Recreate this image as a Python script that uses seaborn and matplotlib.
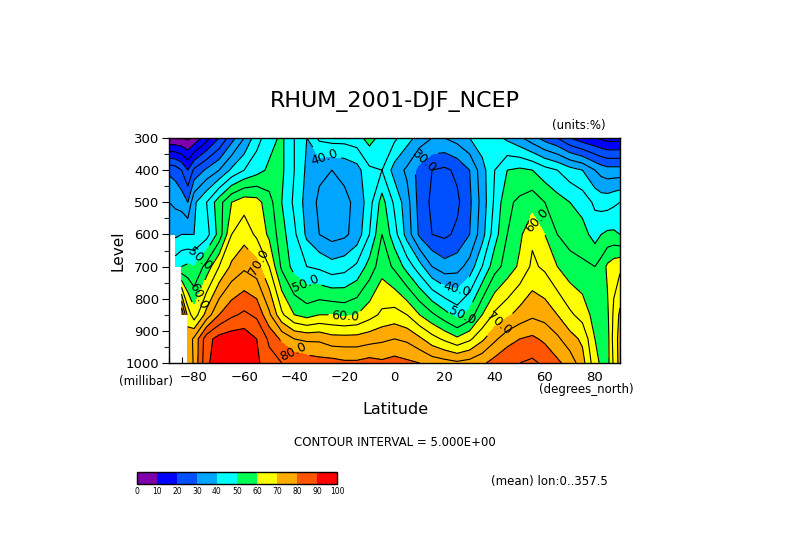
import numpy as np
import matplotlib
matplotlib.use("Agg")
import matplotlib.pyplot as plt
from matplotlib.ticker import MultipleLocator
import seaborn as sns

# grid of the zonal-mean field (NaN = below ground)
lats = [-90, -87.5, -85, -82.5, -80, -75, -70, -65, -60, -55, -50, -45, -40, -35,
        -30, -25, -20, -15, -10, -5, 0, 5, 10, 15, 20, 25, 30, 35, 40, 45, 50,
        55, 60, 65, 70, 75, 80, 82.5, 85, 87.5, 90]
levels_hpa = [1000, 925, 850, 700, 600, 500, 400, 300]
nan = np.nan

rh_1000 = [nan, nan, nan, 70, 76, 89, 93, 94, 94, 91, 87, 85, 84, 83,
           82, 82, 81, 81, 82, 81, 82, 81, 80, 78, 77, 76, 77, 79, 82, 84, 85,
           86, 84, 81, 78, 72, 62, 59, 58, 66, 72]
rh_925 = [nan, nan, nan, 72, 76, 88, 92, 93, 93, 90, 84, 79, 75, 74,
          74, 72, 72, 72, 73, 74, 75, 74, 71, 67, 64, 61, 64, 69, 74, 78, 80,
          81, 79, 76, 72, 69, 60, 58, 58, 67, 72]
rh_850 = [nan, nan, 85, 68, 62, 72, 80, 84, 86, 84, 76, 66, 60, 58,
          60, 60, 59, 60, 63, 66, 67, 65, 60, 56, 52, 48, 52, 60, 66, 69, 72,
          74, 73, 70, 66, 63, 58, 57, 59, 66, 71]
rh_700 = [nan, 48, 50, 51, 50, 57, 65, 71, 74, 72, 65, 54, 48, 45,
          44, 42, 43, 46, 52, 58, 54, 48, 42, 35, 32, 33, 37, 45, 53, 57, 61,
          66, 64, 60, 57, 56, 55, 57, 61, 63, 64]
rh_600 = [39, 39, 40, 40, 40, 43, 52, 65, 68, 64, 59, 52, 46, 39,
          35, 33, 34, 37, 45, 55, 47, 38, 29, 25, 24, 26, 30, 38, 48, 55, 59,
          64, 60, 55, 53, 52, 48, 50, 51, 51, 50]
rh_500 = [35, 34, 33, 30, 39, 45, 53, 60, 63, 62, 57, 50, 44, 38,
          34, 33, 34, 36, 43, 52, 44, 37, 28, 24, 22, 24, 29, 37, 46, 54, 56,
          58, 55, 52, 50, 48, 44, 43, 43, 44, 45]
rh_400 = [29, 28, 25, 20, 26, 31, 35, 41, 45, 48, 51, 51, 45, 39,
          36, 35, 36, 38, 44, 45, 38, 34, 28, 25, 24, 26, 30, 38, 45, 50, 51,
          50, 47, 45, 42, 40, 35, 33, 32, 32, 32]
rh_300 = [5, 5, 5, 4, 6, 13, 20, 28, 35, 43, 48, 51, 45, 40,
          46, 47, 47, 48, 52, 48, 46, 42, 38, 35, 35, 37, 40, 43, 42, 39, 36,
          32, 28, 25, 20, 17, 15, 14, 13, 13, 13]

shade_levels = [0, 10, 20, 30, 40, 50, 60, 70, 80, 90, 100]
label_levels = [30, 40, 50, 60, 70, 80]
line_levels = [v for v in range(5, 100, 5) if v not in label_levels]
shade_colors = ['#7f00aa', '#0000ff', '#0050ff', '#00a5ff', '#00ffff',
                '#00ff55', '#ffff00', '#ffaa00', '#ff5500', '#ff0000']
tick_lats = [-80, -60, -40, -20, 0, 20, 40, 60, 80]
# rough spots (lat, hPa) where the contour labels sit
label_spots = [(-28, 362), (-78, 675), (-80, 785), (-55, 690), (-38, 775),
               (-20, 835), (-40, 960), (12, 375), (25, 770), (27, 850),
               (41, 870), (56, 560)]

sns.set_theme(style="white")
plt.rcParams['font.family'] = ['DejaVu Sans']

field = np.ma.masked_invalid(np.array([rh_1000, rh_925, rh_850, rh_700,
                                       rh_600, rh_500, rh_400, rh_300]))
W, H = 789, 558
fig = plt.figure(figsize=(W / 100, H / 100), dpi=100)
fig.patch.set_facecolor('white')
ax = fig.add_axes([169 / W, 1 - 363 / H, 451 / W, 225 / H])

cf = ax.contourf(lats, levels_hpa, field, levels=shade_levels,
                 colors=sns.color_palette(shade_colors), corner_mask=False)
ax.contour(lats, levels_hpa, field, levels=line_levels, colors='black',
           linewidths=0.8, corner_mask=False)
cl = ax.contour(lats, levels_hpa, field, levels=label_levels, colors='black',
                linewidths=0.8, corner_mask=False)
ax.clabel(cl, fmt='%.1f', fontsize=9, inline=True, inline_spacing=3,
          manual=label_spots)

ax.set_xlim(-90, 90)
ax.set_ylim(1000, 300)
ax.set_xticks(tick_lats)
ax.xaxis.set_minor_locator(MultipleLocator(5))
ax.set_yticks(range(300, 1001, 100))
ax.yaxis.set_minor_locator(MultipleLocator(50))
ax.tick_params(axis='x', which='both', direction='in', length=4, width=0.8,
               pad=6, labelsize=9.5, bottom=True, colors='black')
ax.tick_params(axis='y', which='major', direction='out', length=5, width=0.8,
               pad=2, labelsize=9.5, left=True, colors='black')
ax.tick_params(axis='y', which='minor', direction='out', length=3.5,
               width=0.8, left=True)
for s in ax.spines.values():
    s.set_color('black')
    s.set_linewidth(1)
ax.set_xlabel('')
ax.set_ylabel('')


def put(x, y, s, **kw):
    fig.text(x / W, 1 - y / H, s, color='black', **kw)


put(395, 101, 'RHUM_2001-DJF_NCEP', fontsize=16, ha='center', va='center')
put(606, 125, '(units:%)', fontsize=8.5, ha='right', va='center')
put(118, 251, 'Level', fontsize=11, ha='center', va='center', rotation=90)
put(146, 382, '(millibar)', fontsize=8.5, ha='center', va='center')
put(634, 390, '(degrees_north)', fontsize=8.5, ha='right', va='center')
put(395, 410, 'Latitude', fontsize=11.5, ha='center', va='center')
put(395, 443, 'CONTOUR INTERVAL = 5.000E+00', fontsize=8.5, ha='center',
    va='center')
put(549, 481, '(mean) lon:0..357.5', fontsize=8.5, ha='center', va='center')

cax = fig.add_axes([137 / W, 1 - 484 / H, 200 / W, 12 / H])
cb = fig.colorbar(cf, cax=cax, orientation='horizontal', ticks=shade_levels)
cb.outline.set_edgecolor('black')
cb.outline.set_linewidth(1)
cax.tick_params(direction='in', length=4, width=0.8, labelsize=5.5, pad=2,
                colors='black')

fig.savefig('out.png', dpi=100)
